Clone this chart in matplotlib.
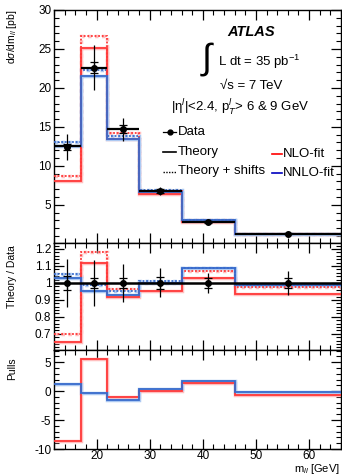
import numpy as np
import matplotlib
matplotlib.use("Agg")
import matplotlib.pyplot as plt
from matplotlib.ticker import MultipleLocator
from matplotlib.lines import Line2D

plt.rcParams['font.family'] = ['Liberation Sans', 'DejaVu Sans']
plt.rcParams['mathtext.fontset'] = 'custom'
plt.rcParams['mathtext.rm'] = 'Liberation Sans'
plt.rcParams['mathtext.it'] = 'Liberation Sans:italic'
plt.rcParams['mathtext.bf'] = 'Liberation Sans:bold'
plt.rcParams['axes.unicode_minus'] = False

# bins in m_ll [GeV]
edges = [12, 17, 22, 28, 36, 46, 66]
x_data = [14.5, 19.5, 25, 32, 41, 56]

# cross section panel [pb]
data = [12.4, 22.6, 14.7, 6.8, 2.8, 1.3]
data_stat = [0.4, 0.7, 0.5, 0.25, 0.1, 0.04]
data_tot = [1.7, 2.9, 1.5, 0.55, 0.18, 0.09]
theory = [12.5, 22.6, 14.7, 6.8, 2.8, 1.3]
nlo = [8.0, 25.1, 13.4, 6.45, 2.85, 1.2]
nlo_shift = [8.7, 26.6, 14.2, 6.75, 3.0, 1.26]
nnlo = [12.6, 21.5, 13.4, 6.6, 3.05, 1.29]
nnlo_shift = [13.0, 22.3, 13.85, 6.9, 3.1, 1.3]

# theory / data panel
r_data = [1, 1, 1, 1, 1, 1]
r_stat = [0.04, 0.03, 0.03, 0.035, 0.03, 0.03]
r_tot = [0.14, 0.135, 0.11, 0.085, 0.06, 0.07]
r_nlo = [0.65, 1.12, 0.92, 0.95, 1.03, 0.935]
r_nlo_shift = [0.70, 1.18, 0.965, 1.0, 1.07, 0.975]
r_nnlo = [1.03, 0.95, 0.93, 1.0, 1.09, 0.99]
r_nnlo_shift = [1.05, 0.99, 0.95, 1.01, 1.09, 0.99]

# pulls panel
p_nlo = [-8.6, 5.5, -1.0, 0.0, 1.4, -0.6]
p_nnlo = [1.15, -0.25, -1.55, 0.3, 1.8, -0.1]

red = (1.0, 0.22, 0.22)
red_sh = (1.0, 0.75, 0.75)
blue = (0.22, 0.42, 0.80)
blue_sh = (0.68, 0.79, 0.95)

W, H = 342, 476
fig = plt.figure(figsize=(W / 100, H / 100), dpi=100)

def box(top, bottom):
    return [54 / W, 1 - bottom / H, (341 - 54) / W, (bottom - top) / H]

ax1 = fig.add_axes(box(10, 243))
ax2 = fig.add_axes(box(243, 350))
ax3 = fig.add_axes(box(350, 449))

def hist(ax, vals, col, sh, dotted=False):
    ls = (0, (1, 1)) if dotted else '-'
    ax.stairs(vals, edges, baseline=None, color=sh, lw=2.5, ls=ls, zorder=2)
    ax.stairs(vals, edges, baseline=None, color=col, lw=1.3, ls=ls, zorder=3)

def data_points(ax, y, stat, tot):
    ax.errorbar(x_data, y, yerr=tot, fmt='none', ecolor='black', elinewidth=0.9, zorder=5)
    ax.errorbar(x_data, y, yerr=stat, fmt='o', color='black', ms=4, elinewidth=0.9,
                capsize=3, capthick=0.9, zorder=6)

# top panel
hist(ax1, nlo_shift, red, red_sh, True)
hist(ax1, nnlo_shift, blue, blue_sh, True)
hist(ax1, nlo, red, red_sh)
hist(ax1, nnlo, blue, blue_sh)
ax1.hlines(theory, edges[:-1], edges[1:], color='black', lw=1.6, zorder=4)
data_points(ax1, data, data_stat, data_tot)
ax1.set_ylim(0.1, 30)

# ratio panel
hist(ax2, r_nlo_shift, red, red_sh, True)
hist(ax2, r_nnlo_shift, blue, blue_sh, True)
hist(ax2, r_nlo, red, red_sh)
hist(ax2, r_nnlo, blue, blue_sh)
ax2.axhline(1.0, color='black', lw=1.8, zorder=4)
data_points(ax2, r_data, r_stat, r_tot)
ax2.set_ylim(0.605, 1.235)

# pulls panel
hist(ax3, p_nlo, red, red_sh)
hist(ax3, p_nnlo, blue, blue_sh)
ax3.set_ylim(-10, 7.1)

for ax in (ax1, ax2, ax3):
    ax.set_xlim(12, 66)
    ax.xaxis.set_major_locator(MultipleLocator(10))
    ax.xaxis.set_minor_locator(MultipleLocator(2))
    ax.tick_params(which='both', direction='in', top=True, right=True, labelsize=8.5, pad=2)
    ax.tick_params(which='major', length=7, width=0.9)
    ax.tick_params(which='minor', length=3.5, width=0.8)
    for s in ax.spines.values():
        s.set_linewidth(1.0)

ax1.yaxis.set_major_locator(MultipleLocator(5))
ax1.yaxis.set_minor_locator(MultipleLocator(1))
ax2.yaxis.set_minor_locator(MultipleLocator(0.02))
ax2.set_yticks([0.7, 0.8, 0.9, 1.0, 1.1, 1.2])
ax2.set_yticklabels(['0.7', '0.8', '0.9', '1', '1.1', '1.2'])
ax3.yaxis.set_major_locator(MultipleLocator(5))
ax3.yaxis.set_minor_locator(MultipleLocator(1))
ax3.tick_params(axis='x', pad=0.5)
ax1.tick_params(labelbottom=False)
ax2.tick_params(labelbottom=False)

# axis titles
fig.text(12 / W, 1 - 10 / H, r'd$\sigma$/dm$_{ll}$ [pb]', rotation=90, ha='center', va='top', fontsize=7.5)
fig.text(12 / W, 1 - 245 / H, 'Theory / Data', rotation=90, ha='center', va='top', fontsize=7.5)
fig.text(12 / W, 1 - 357 / H, 'Pulls', rotation=90, ha='center', va='top', fontsize=7.5)
fig.text(340 / W, 1 - 472 / H, r'm$_{ll}$ [GeV]', ha='right', va='baseline', fontsize=8)

# labels
def px(xp, yp):
    return xp / W, 1 - yp / H

fig.text(*px(251, 32), 'ATLAS', ha='center', va='center', fontsize=10.5,
         fontweight='bold', fontstyle='italic')
fig.text(*px(207, 59), '\u222b', ha='center', va='center', fontsize=26)
fig.text(*px(218, 62), r'L dt = 35 pb$^{-1}$', ha='left', va='center', fontsize=9.5)
fig.text(*px(251, 86), '\u221as = 7 TeV', ha='center', va='center', fontsize=9.5)
fig.text(*px(240, 108), '|\u03b7$^{l}$|<2.4, p$_{T}^{l}$> 6 & 9 GeV', ha='center', va='center', fontsize=9.5)

# legend
leg_y = [132, 152, 171]
leg_txt = ['Data', 'Theory', 'Theory + shifts']
for yy, tt in zip(leg_y, leg_txt):
    fig.text(*px(178, yy), tt, ha='left', va='center', fontsize=9.5)
fig.add_artist(Line2D([163 / W, 169.5 / W, 176 / W], [1 - 132 / H] * 3, color='black', lw=0.9,
                      marker='o', ms=3.5, markevery=[1], transform=fig.transFigure))
fig.add_artist(Line2D([163 / W, 176 / W], [1 - 152 / H] * 2, color='black', lw=1.2,
                      transform=fig.transFigure))
fig.add_artist(Line2D([163 / W, 176 / W], [1 - 172 / H] * 2, color='black', lw=1.0,
                      ls=(0, (1, 1)), transform=fig.transFigure))
fig.add_artist(Line2D([272 / W, 282 / W], [1 - 154 / H] * 2, color='red', lw=1.2,
                      transform=fig.transFigure))
fig.add_artist(Line2D([272 / W, 282 / W], [1 - 173 / H] * 2, color=(0, 0, 0.75), lw=1.2,
                      transform=fig.transFigure))
fig.text(*px(283, 154), 'NLO-fit', ha='left', va='center', fontsize=9.5)
fig.text(*px(283, 173), 'NNLO-fit', ha='left', va='center', fontsize=9.5)

fig.savefig('out.png', dpi=100)
